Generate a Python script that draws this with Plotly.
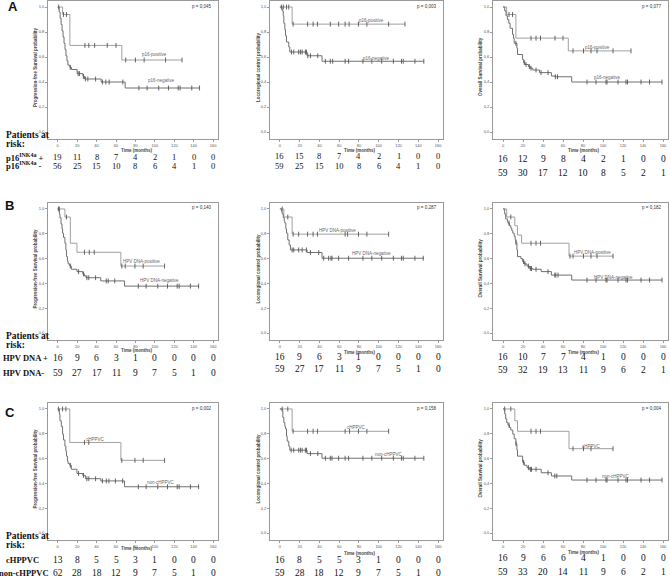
import plotly.graph_objects as go
import numpy as np

W, H = 670, 578

months = [0, 20, 40, 60, 80, 100, 120, 140, 160]
month_labels = [str(m) for m in months]
prob_ticks = [0.0, 0.2, 0.4, 0.6, 0.8, 1.0]
prob_labels = ["0,0", "0,2", "0,4", "0,6", "0,8", "1,0"]

# ---------------- Row A : p16 ----------------
A_pfs_pos_t = [0, 5, 12.5, 66]
A_pfs_pos_s = [1.0, 0.94, 0.693, 0.576]
A_pfs_pos_end = 128
A_pfs_pos_cens = [6, 9, 28, 32, 38, 51, 60, 70, 80, 89, 111, 128]
A_pfs_neg_t = [0, 1.5, 2.5, 3.5, 4.5, 5.5, 6.5, 7.5, 8.5, 9.5, 10.5, 12.5, 14.2, 20, 26, 27.7, 44.7, 69.4]
A_pfs_neg_s = [1.0, 0.96, 0.91, 0.86, 0.81, 0.76, 0.71, 0.66, 0.61, 0.57, 0.535, 0.517, 0.50, 0.467, 0.445, 0.424, 0.40, 0.352]
A_pfs_neg_end = 146
A_pfs_neg_cens = [1, 13, 21, 22.5, 26.5, 28.5, 31, 39, 46, 49.5, 53, 67, 83.6, 92, 104, 114, 124, 126, 138, 146]

A_lrc_pos_t = [0, 12.4]
A_lrc_pos_s = [1.0, 0.863]
A_lrc_pos_end = 126.5
A_lrc_pos_cens = [3.5, 6.7, 9, 13.4, 28, 33.6, 38, 51, 59.4, 66, 70, 79.5, 88, 110, 126.5]
A_lrc_neg_t = [0, 2.3, 3.4, 4, 5, 5.7, 6.7, 9, 10, 27.5, 42.6]
A_lrc_neg_s = [1.0, 0.97, 0.93, 0.87, 0.82, 0.77, 0.72, 0.68, 0.64, 0.61, 0.566]
A_lrc_neg_end = 145.6
A_lrc_neg_cens = [1.5, 11.7, 14, 19, 20.8, 22.5, 25.8, 26.8, 28.2, 30.9, 38.3, 46, 51, 53.4, 66, 69.5, 84, 93, 103, 114.8, 123, 124.8, 136.6, 145.6]

A_os_pos_t = [0, 3.7, 12.9, 65.3]
A_os_pos_s = [1.0, 0.94, 0.751, 0.649]
A_os_pos_end = 128
A_os_pos_cens = [6, 9.5, 28, 33, 37.5, 52, 60, 70, 80.5, 88, 94, 110, 128]
A_os_neg_t = [0, 1.7, 3, 4.4, 5.8, 7.1, 9.5, 10.5, 11.2, 13.9, 14.5, 19.6, 20.6, 22, 25.4, 27.4, 29.8, 36.5, 48.4, 51.8, 68.7]
A_os_neg_s = [1.0, 0.97, 0.93, 0.90, 0.87, 0.83, 0.78, 0.75, 0.71, 0.67, 0.62, 0.58, 0.555, 0.54, 0.523, 0.51, 0.496, 0.475, 0.448, 0.442, 0.40]
A_os_neg_end = 159
A_os_neg_cens = [12.9, 21.3, 23, 26.4, 28, 33, 38, 45, 52.4, 54.5, 84, 93, 103, 104, 115, 123, 124.5, 138, 146.5, 159]

# ---------------- Row B : HPV DNA ----------------
B_pfs_pos_t = [0, 7.4, 13, 19.8, 65]
B_pfs_pos_s = [1.0, 0.935, 0.724, 0.651, 0.54]
B_pfs_pos_end = 110
B_pfs_pos_cens = [1.7, 9, 27.5, 32.5, 37.6, 66, 69.5, 79.5, 88, 110]
B_pfs_neg_t = [0, 1.7, 2.3, 3.4, 4.4, 5, 6, 7.4, 8.4, 9, 10, 10.7, 12.4, 14, 19.8, 25.8, 27.5, 29.2, 44.3, 68.8]
B_pfs_neg_s = [1.0, 0.96, 0.93, 0.88, 0.84, 0.805, 0.77, 0.724, 0.67, 0.616, 0.58, 0.557, 0.54, 0.514, 0.495, 0.476, 0.46, 0.446, 0.42, 0.378]
B_pfs_neg_end = 145.6
B_pfs_neg_cens = [0.7, 13, 21.5, 26.5, 30, 32, 39, 50, 52, 58.7, 83, 91, 103, 113, 123, 125, 136.6, 145]

B_lrc_pos_t = [0, 4, 12.4]
B_lrc_pos_s = [1.0, 0.935, 0.797]
B_lrc_pos_end = 110
B_lrc_pos_cens = [2.3, 8, 13.4, 19, 28, 33.6, 38, 66, 68.5, 79.5, 88, 110]
B_lrc_neg_t = [0, 1.7, 2.3, 3.4, 4.4, 5, 6, 6.7, 8, 9.4, 10.7, 27.5, 42.6]
B_lrc_neg_s = [1.0, 0.98, 0.96, 0.93, 0.90, 0.886, 0.84, 0.805, 0.75, 0.71, 0.67, 0.649, 0.603]
B_lrc_neg_end = 145.6
B_lrc_neg_cens = [12.4, 14, 19, 22.5, 26.8, 30.9, 39.3, 44.3, 49.3, 51.7, 52.7, 59.4, 69.5, 84, 93, 103, 114.8, 123, 124.8, 136.6, 145]

B_os_pos_t = [0, 3.7, 11.8, 14.5, 18.6, 66]
B_os_pos_s = [1.0, 0.935, 0.865, 0.79, 0.724, 0.62]
B_os_pos_end = 110
B_os_pos_cens = [7.8, 28, 33, 37.5, 67, 70, 80.5, 88, 94, 110]
B_os_neg_t = [0, 1.7, 2.7, 4.4, 5, 6.4, 7.8, 8.8, 9.8, 11.2, 12.2, 12.9, 13.9, 14.5, 17.9, 19.6, 21.3, 24, 26.4, 29.8, 38.2, 48.4, 68.7]
B_os_neg_s = [1.0, 0.96, 0.92, 0.90, 0.886, 0.865, 0.846, 0.825, 0.805, 0.78, 0.755, 0.73, 0.67, 0.616, 0.60, 0.576, 0.557, 0.54, 0.52, 0.514, 0.495, 0.467, 0.427]
B_os_neg_end = 159
B_os_neg_cens = [6, 12.9, 20.6, 22, 25.4, 27.4, 28.5, 33, 45, 51.8, 52.8, 55, 84, 93, 103, 104, 115, 123, 124.5, 138, 146.5, 159]

# ---------------- Row C : cHPPVC ----------------
C_pfs_pos_t = [0, 12.4, 65]
C_pfs_pos_s = [1.0, 0.73, 0.586]
C_pfs_pos_end = 110
C_pfs_pos_cens = [0.7, 5, 8.4, 27.5, 32, 66, 79.5, 88, 110]
C_pfs_neg_t = [0, 1.7, 2.3, 3.7, 5, 6, 7.4, 8.4, 9, 10, 10.7, 12.4, 14, 19.8, 25.8, 28.5, 44.3, 68.8]
C_pfs_neg_s = [1.0, 0.96, 0.905, 0.86, 0.797, 0.75, 0.70, 0.66, 0.62, 0.58, 0.56, 0.546, 0.514, 0.48, 0.465, 0.438, 0.42, 0.373]
C_pfs_neg_end = 145.6
C_pfs_neg_cens = [13, 21.5, 26.5, 30, 32, 39, 46, 50, 52.7, 59.4, 66.8, 83, 91, 103, 113, 123, 125, 136.6, 145]

C_lrc_pos_t = [0, 12.4]
C_lrc_pos_s = [1.0, 0.82]
C_lrc_pos_end = 110
C_lrc_pos_cens = [2.3, 8, 13.4, 28, 33.6, 38, 66, 70.5, 79.5, 88, 110]
C_lrc_neg_t = [0, 2.3, 3, 4, 5, 5.7, 6.7, 7.4, 9, 10, 27.5, 42.6]
C_lrc_neg_s = [1.0, 0.985, 0.93, 0.89, 0.86, 0.84, 0.78, 0.74, 0.70, 0.668, 0.64, 0.603]
C_lrc_neg_end = 145.6
C_lrc_neg_cens = [11.4, 14, 19, 20.8, 22.5, 25.8, 26.8, 30.9, 38.3, 46, 51, 52.7, 59.4, 66, 69.5, 84, 93, 103, 114.8, 123, 124.8, 136.6, 145.6]

C_os_pos_t = [0, 11.8, 14.5, 66]
C_os_pos_s = [1.0, 0.905, 0.82, 0.68]
C_os_pos_end = 110
C_os_pos_cens = [1.7, 7.8, 28, 33, 37.5, 70, 80.5, 88, 110]
C_os_neg_t = [0, 1.7, 2.7, 3.7, 5, 6.4, 7.8, 9.8, 11.2, 12.9, 13.9, 14.5, 19.6, 21.3, 24, 26.4, 38.2, 48.4, 68.7]
C_os_neg_s = [1.0, 0.96, 0.92, 0.89, 0.87, 0.85, 0.83, 0.797, 0.76, 0.72, 0.67, 0.62, 0.57, 0.546, 0.527, 0.514, 0.486, 0.46, 0.427]
C_os_neg_end = 159
C_os_neg_cens = [6, 12.9, 20.6, 25.4, 27.4, 28.5, 33, 45, 51.8, 53.8, 84, 93, 103, 104, 115, 123, 124.5, 138, 146.5, 159]

# ---------------- numbers at risk ----------------
A_pfs_risk_pos = [19, 11, 8, 7, 4, 2, 1, 0, 0]
A_pfs_risk_neg = [56, 25, 15, 10, 8, 6, 4, 1, 0]
A_lrc_risk_pos = [16, 15, 8, 7, 4, 2, 1, 0, 0]
A_lrc_risk_neg = [59, 25, 15, 10, 8, 6, 4, 1, 0]
A_os_risk_pos = [16, 12, 9, 8, 4, 2, 1, 0, 0]
A_os_risk_neg = [59, 30, 17, 12, 10, 8, 5, 2, 1]
B_pfs_risk_pos = [16, 9, 6, 3, 1, 0, 0, 0, 0]
B_pfs_risk_neg = [59, 27, 17, 11, 9, 7, 5, 1, 0]
B_lrc_risk_pos = [16, 9, 6, 3, 1, 0, 0, 0, 0]
B_lrc_risk_neg = [59, 27, 17, 11, 9, 7, 5, 1, 0]
B_os_risk_pos = [16, 10, 7, 7, 4, 1, 0, 0, 0]
B_os_risk_neg = [59, 32, 19, 13, 11, 9, 6, 2, 1]
C_pfs_risk_pos = [13, 8, 5, 5, 3, 1, 0, 0, 0]
C_pfs_risk_neg = [62, 28, 18, 12, 9, 7, 5, 1, 0]
C_lrc_risk_pos = [16, 8, 5, 5, 3, 1, 0, 0, 0]
C_lrc_risk_neg = [59, 28, 18, 12, 9, 7, 5, 1, 0]
C_os_risk_pos = [16, 9, 6, 6, 4, 1, 0, 0, 0]
C_os_risk_neg = [59, 33, 20, 14, 11, 9, 6, 2, 1]

p_values = ["p = 0,045", "p = 0,003", "p = 0,077",
            "p = 0,140", "p = 0,287", "p = 0,182",
            "p = 0,002", "p = 0,158", "p = 0,004"]
y_titles = ["Progression-free Survival probability", "Locoregional control probability",
            "Overall Survival probability"]
group_pos = ["p16-positive", "HPV DNA-positive", "cHPPVC"]
group_neg = ["p16-negative", "HPV DNA-negative", "non-cHPPVC"]
row_letters = ["A", "B", "C"]
row_labels_pos = ["<b>p16<sup>INK4a</sup> +</b>", "<b>HPV DNA +</b>", "<b>cHPPVC</b>"]
row_labels_neg = ["<b>p16<sup>INK4a</sup> -</b>", "<b>HPV DNA-</b>", "<b>non-cHPPVC</b>"]

curves = [
    (A_pfs_pos_t, A_pfs_pos_s, A_pfs_pos_end, A_pfs_pos_cens, A_pfs_neg_t, A_pfs_neg_s, A_pfs_neg_end, A_pfs_neg_cens),
    (A_lrc_pos_t, A_lrc_pos_s, A_lrc_pos_end, A_lrc_pos_cens, A_lrc_neg_t, A_lrc_neg_s, A_lrc_neg_end, A_lrc_neg_cens),
    (A_os_pos_t, A_os_pos_s, A_os_pos_end, A_os_pos_cens, A_os_neg_t, A_os_neg_s, A_os_neg_end, A_os_neg_cens),
    (B_pfs_pos_t, B_pfs_pos_s, B_pfs_pos_end, B_pfs_pos_cens, B_pfs_neg_t, B_pfs_neg_s, B_pfs_neg_end, B_pfs_neg_cens),
    (B_lrc_pos_t, B_lrc_pos_s, B_lrc_pos_end, B_lrc_pos_cens, B_lrc_neg_t, B_lrc_neg_s, B_lrc_neg_end, B_lrc_neg_cens),
    (B_os_pos_t, B_os_pos_s, B_os_pos_end, B_os_pos_cens, B_os_neg_t, B_os_neg_s, B_os_neg_end, B_os_neg_cens),
    (C_pfs_pos_t, C_pfs_pos_s, C_pfs_pos_end, C_pfs_pos_cens, C_pfs_neg_t, C_pfs_neg_s, C_pfs_neg_end, C_pfs_neg_cens),
    (C_lrc_pos_t, C_lrc_pos_s, C_lrc_pos_end, C_lrc_pos_cens, C_lrc_neg_t, C_lrc_neg_s, C_lrc_neg_end, C_lrc_neg_cens),
    (C_os_pos_t, C_os_pos_s, C_os_pos_end, C_os_pos_cens, C_os_neg_t, C_os_neg_s, C_os_neg_end, C_os_neg_cens),
]
risks = [
    (A_pfs_risk_pos, A_pfs_risk_neg), (A_lrc_risk_pos, A_lrc_risk_neg), (A_os_risk_pos, A_os_risk_neg),
    (B_pfs_risk_pos, B_pfs_risk_neg), (B_lrc_risk_pos, B_lrc_risk_neg), (B_os_risk_pos, B_os_risk_neg),
    (C_pfs_risk_pos, C_pfs_risk_neg), (C_lrc_risk_pos, C_lrc_risk_neg), (C_os_risk_pos, C_os_risk_neg),
]
# curve label anchors (time, probability) for positive / negative group
label_pos_xy = [(100, 0.62), (93, 0.89), (94, 0.68), (86, 0.58), (58, 0.83), (89, 0.65), (39, 0.75), (77, 0.85), (88, 0.70)]
label_neg_xy = [(107, 0.41), (98, 0.59), (104, 0.437), (105, 0.42), (93, 0.64), (110, 0.45), (106, 0.405), (110, 0.635), (113, 0.454)]

# ---------------- layout geometry (pixels) ----------------
col_px = [(48, 218), (270, 443), (493, 668)]
row_px = [(1, 139), (203, 340), (403, 540)]
risk_rows_px = [[(157, 166), (156, 166), (159, 173)],
                [(358, 373), (357, 369), (357, 370)],
                [(560, 573), (560, 573), (558, 572)]]
time_title_px = [[150, 150, 150], [350, 352, 352], [548, 553, 552]]
ytitle_x_px = [35, 258, 480]
letter_px = [(13, 7), (9, 205), (10, 412)]
patients_px = [(135, 144), (336, 345), (536, 545)]

POS_COL = "#a0a0a0"
NEG_COL = "#707070"
FRAME = "#9a9a9a"
SERIF = "Liberation Serif"
SANS = "Liberation Sans"


def px_x(x):
    return x / W


def px_y(y):
    return 1 - y / H


fig = go.Figure()
annotations = []
layout_axes = {}

for r in range(3):
    for c in range(3):
        k = r * 3 + c + 1
        xs = "" if k == 1 else str(k)
        xa, ya = "x" + xs, "y" + xs
        x0, x1 = col_px[c]
        y0, y1 = row_px[r]
        layout_axes["xaxis" + xs] = dict(
            domain=[px_x(x0), px_x(x1)], anchor=ya, range=[-10, 165],
            tickvals=months, ticktext=month_labels, ticks="outside", ticklen=2,
            tickcolor=FRAME, tickfont=dict(size=4, color="#555", family=SANS),
            showline=True, mirror=True, linecolor=FRAME, linewidth=1,
            showgrid=False, zeroline=False, fixedrange=True)
        layout_axes["yaxis" + xs] = dict(
            domain=[px_y(y1), px_y(y0)], anchor=xa, range=[-0.056, 1.048],
            tickvals=prob_ticks, ticktext=prob_labels, ticks="outside", ticklen=2,
            tickcolor=FRAME, tickfont=dict(size=4, color="#555", family=SANS),
            showline=True, mirror=True, linecolor=FRAME, linewidth=1,
            showgrid=False, zeroline=False, fixedrange=True)

        pt, ps, pend, pc, nt, ns, nend, nc = curves[k - 1]
        for t, s, end, cens, col in ((pt, ps, pend, pc, POS_COL), (nt, ns, nend, nc, NEG_COL)):
            fig.add_trace(go.Scatter(
                x=list(t) + [end], y=list(s) + [s[-1]], mode="lines",
                line=dict(color=col, width=1, shape="hv"), xaxis=xa, yaxis=ya,
                showlegend=False, hoverinfo="skip"))
            idx = np.searchsorted(np.array(t), np.array(cens), side="right") - 1
            fig.add_trace(go.Scatter(
                x=cens, y=[s[i] for i in idx], mode="markers",
                marker=dict(symbol="line-ns", size=3.5, line=dict(color="#555", width=0.9)),
                xaxis=xa, yaxis=ya, showlegend=False, hoverinfo="skip"))

        # p value
        annotations.append(dict(text=p_values[k - 1], xref="paper", yref="paper",
                                x=px_x(x1 - 5), y=px_y(y0 + 5), xanchor="right", yanchor="middle",
                                showarrow=False, font=dict(size=4.5, color="#333", family=SANS)))
        # curve labels
        for (lx, ly), txt in ((label_pos_xy[k - 1], group_pos[r]), (label_neg_xy[k - 1], group_neg[r])):
            annotations.append(dict(text=txt, xref=xa, yref=ya, x=lx, y=ly, xanchor="center",
                                    yanchor="middle", showarrow=False,
                                    font=dict(size=4.5, color="#666", family=SANS)))
        # axis titles
        annotations.append(dict(text="<b>" + y_titles[c] + "</b>", xref="paper", yref="paper",
                                x=px_x(ytitle_x_px[c]), y=px_y((y0 + y1) / 2 - 3), textangle=-90,
                                xanchor="center", yanchor="middle", showarrow=False,
                                font=dict(size=4.5, color="#444", family=SANS)))
        annotations.append(dict(text="<b>Time (months)</b>", xref="paper", yref="paper",
                                x=px_x((x0 + x1) / 2 + 3), y=px_y(time_title_px[r][c]),
                                xanchor="center", yanchor="middle", showarrow=False,
                                font=dict(size=4.5, color="#444", family=SANS)))
        # numbers at risk
        rp, rn = risks[k - 1]
        fsz = 8.5 if (r == 0 and c < 2) else 9.5
        for vals, ypx in ((rp, risk_rows_px[r][c][0]), (rn, risk_rows_px[r][c][1])):
            for m, v in zip(months, vals):
                annotations.append(dict(text=str(v), xref=xa, yref="paper", x=m, y=px_y(ypx),
                                        xanchor="center", yanchor="middle", showarrow=False,
                                        font=dict(size=fsz, color="#111", family=SERIF)))

    # row-level labels
    lx, ly = letter_px[r]
    annotations.append(dict(text="<b>" + row_letters[r] + "</b>", xref="paper", yref="paper",
                            x=px_x(lx), y=px_y(ly), xanchor="center", yanchor="middle",
                            showarrow=False, font=dict(size=13, color="#111", family=SANS)))
    p1, p2 = patients_px[r]
    annotations.append(dict(text="<b>Patients at</b>", xref="paper", yref="paper",
                            x=px_x(4), y=px_y(p1), xanchor="left", yanchor="middle",
                            showarrow=False, font=dict(size=9.5, color="#111", family=SERIF)))
    annotations.append(dict(text="<b>risk:</b>", xref="paper", yref="paper",
                            x=px_x(4), y=px_y(p2), xanchor="left", yanchor="middle",
                            showarrow=False, font=dict(size=9.5, color="#111", family=SERIF)))
    rp_y, rn_y = risk_rows_px[r][0]
    annotations.append(dict(text=row_labels_pos[r], xref="paper", yref="paper",
                            x=px_x(4 if r != 1 else 1), y=px_y(rp_y), xanchor="left", yanchor="middle",
                            showarrow=False, font=dict(size=8.5, color="#111", family=SERIF)))
    if r == 2:
        annotations.append(dict(text=row_labels_neg[r], xref="paper", yref="paper",
                                x=px_x(51), y=px_y(rn_y), xanchor="right", yanchor="middle",
                                showarrow=False, font=dict(size=8.5, color="#111", family=SERIF)))
    else:
        annotations.append(dict(text=row_labels_neg[r], xref="paper", yref="paper",
                                x=px_x(4 if r != 1 else 1), y=px_y(rn_y), xanchor="left", yanchor="middle",
                                showarrow=False, font=dict(size=8.5, color="#111", family=SERIF)))

fig.update_layout(
    width=W, height=H, margin=dict(l=0, r=0, t=0, b=0),
    paper_bgcolor="white", plot_bgcolor="white",
    showlegend=False, annotations=annotations, **layout_axes)

fig.write_html("out.html", config={"displayModeBar": False},
               post_script="document.body.style.margin='0px';document.body.style.overflow='hidden';")
